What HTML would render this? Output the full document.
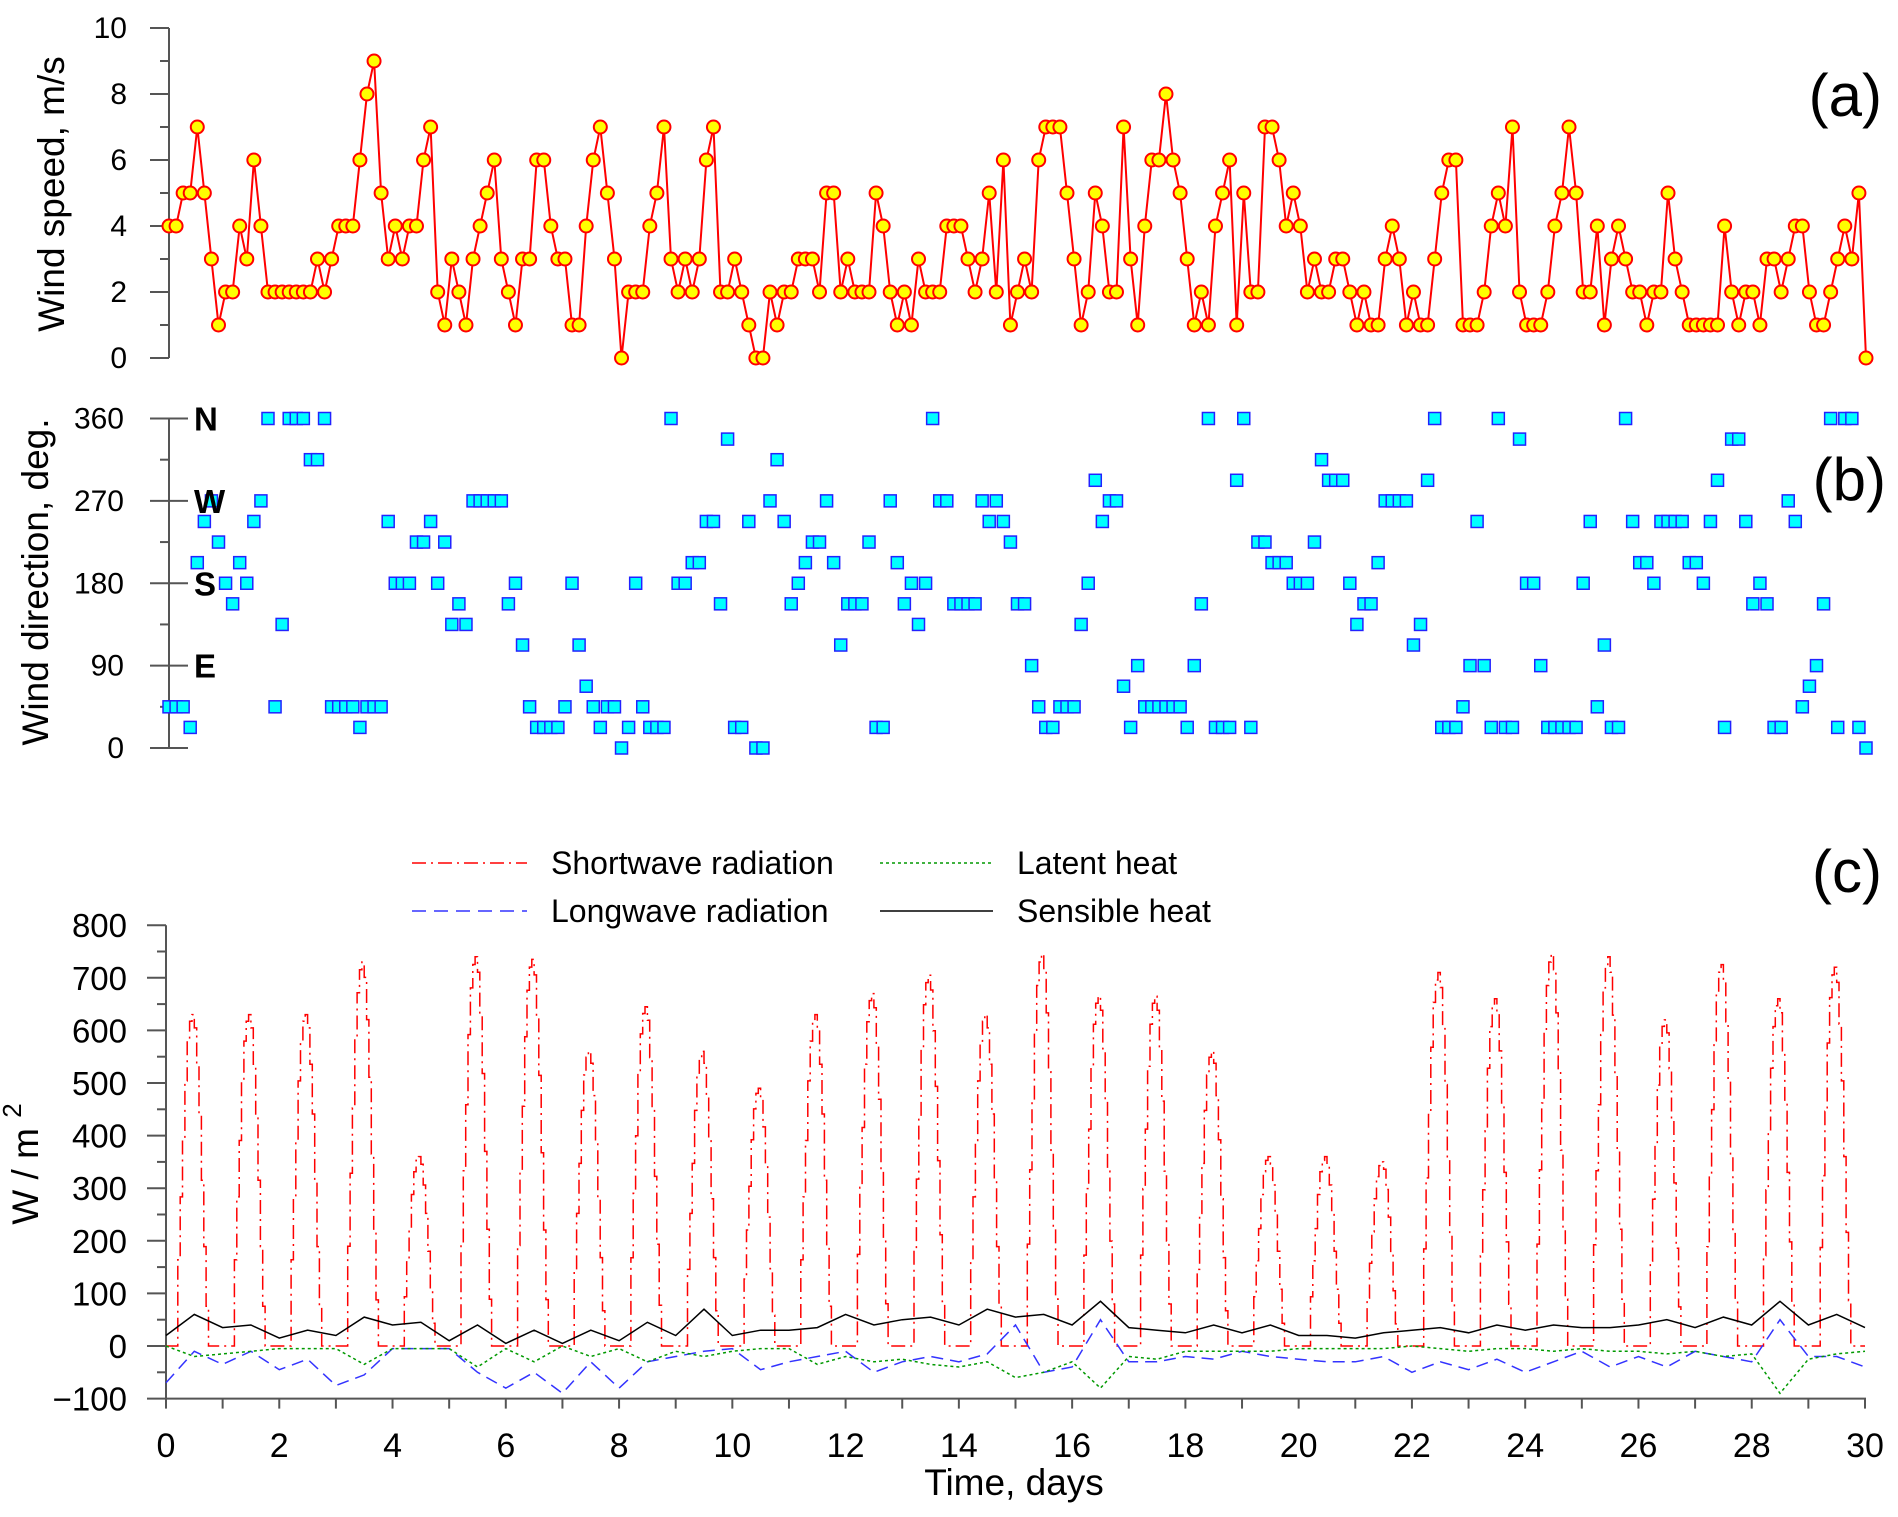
<!DOCTYPE html>
<html><head><meta charset="utf-8">
<style>
html,body{margin:0;padding:0;background:#fff;}
svg{display:block;font-family:"Liberation Sans",Arial,sans-serif;}
</style></head>
<body>
<svg id="fig" width="1898" height="1517" viewBox="0 0 1898 1517" xmlns="http://www.w3.org/2000/svg">
  <rect x="0" y="0" width="1898" height="1517" fill="#fff"/>
  <g id="pa"></g>
  <g id="pb"></g>
  <g id="pc"></g>
  <text x="54" y="194" transform="rotate(-90 54 194)" text-anchor="middle" dominant-baseline="middle" font-size="37">Wind speed, m/s</text>
  <text x="38" y="582" transform="rotate(-90 38 582)" text-anchor="middle" dominant-baseline="middle" font-size="37">Wind direction, deg.</text>
  <text x="28" y="1164" transform="rotate(-90 28 1164)" text-anchor="middle" dominant-baseline="middle" font-size="37">W / m <tspan dy="-14" font-size="26">2</tspan></text>
  <text x="1014" y="1495" text-anchor="middle" font-size="37">Time, days</text>
  <text x="1882" y="116" text-anchor="end" font-size="60">(a)</text>
  <text x="1886" y="500" text-anchor="end" font-size="60">(b)</text>
  <text x="1882" y="892" text-anchor="end" font-size="60">(c)</text>
  <g>
    <g>
      <line x1="412" y1="863" x2="527" y2="863" stroke="#ff0000" stroke-width="1.5" stroke-dasharray="14,5,2,5"/>
      <text x="551" y="874" font-size="32">Shortwave radiation</text>
    </g>
    <g>
      <line x1="412" y1="911" x2="527" y2="911" stroke="#3333ff" stroke-width="1.5" stroke-dasharray="14,8"/>
      <text x="551" y="922" font-size="32">Longwave radiation</text>
    </g>
    <g>
      <line x1="880" y1="863" x2="993" y2="863" stroke="#009900" stroke-width="1.5" stroke-dasharray="3,3"/>
      <text x="1017" y="874" font-size="32">Latent heat</text>
    </g>
    <g>
      <line x1="880" y1="911" x2="993" y2="911" stroke="#000" stroke-width="1.5"/>
      <text x="1017" y="922" font-size="32">Sensible heat</text>
    </g>
  </g>
</svg>
<script>
// ---------- data ----------
var speedValues = [4,4,5,5,7,5,3,1,2,2,4,3,6,4,2,2,2,2,2,2,2,3,2,3,4,4,4,6,8,9,5,3,4,3,4,4,6,7,2,1,3,2,1,3,4,5,6,3,2,1,3,3,6,6,4,3,3,1,1,4,6,7,5,3,0,2,2,2,4,5,7,3,2,3,2,3,6,7,2,2,3,2,
1,0,0,2,1,2,2,3,3,3,2,5,5,2,3,2,2,2,5,4,2,1,2,1,3,2,2,2,4,4,4,3,2,3,5,2,6,1,2,3,2,6,7,7,7,5,3,1,2,5,4,2,2,7,3,1,4,6,6,8,6,5,3,1,2,1,4,5,6,1,5,2,2,7,7,6,4,5,4,2,
3,2,2,3,3,2,1,2,1,1,3,4,3,1,2,1,1,3,5,6,6,1,1,1,2,4,5,4,7,2,1,1,1,2,4,5,7,5,2,2,4,1,3,4,3,2,2,1,2,2,5,3,2,1,1,1,1,1,4,2,1,2,2,1,3,3,2,3,4,4,2,1,1,2,3,4,3,5,0];
var directionValues = [45,45,45,22.5,202.5,247.5,270,225,180,157.5,202.5,180,247.5,270,360,45,135,360,360,360,315,315,360,45,45,45,45,22.5,45,45,45,247.5,180,180,180,225,225,247.5,180,225,135,157.5,135,270,270,270,270,270,157.5,180,112.5,45,22.5,22.5,22.5,22.5,45,180,112.5,67.5,45,22.5,45,45,0,22.5,180,45,22.5,22.5,22.5,360,180,180,202.5,202.5,247.5,247.5,157.5,337.5,22.5,22.5,
247.5,0,0,270,315,247.5,157.5,180,202.5,225,225,270,202.5,112.5,157.5,157.5,157.5,225,22.5,22.5,270,202.5,157.5,180,135,180,360,270,270,157.5,157.5,157.5,157.5,270,247.5,270,247.5,225,157.5,157.5,90,45,22.5,22.5,45,45,45,135,180,292.5,247.5,270,270,67.5,22.5,90,45,45,45,45,45,45,22.5,90,157.5,360,22.5,22.5,22.5,292.5,360,22.5,225,225,202.5,202.5,202.5,180,180,180,
225,315,292.5,292.5,292.5,180,135,157.5,157.5,202.5,270,270,270,270,112.5,135,292.5,360,22.5,22.5,22.5,45,90,247.5,90,22.5,360,22.5,22.5,337.5,180,180,90,22.5,22.5,22.5,22.5,22.5,180,247.5,45,112.5,22.5,22.5,360,247.5,202.5,202.5,180,247.5,247.5,247.5,247.5,202.5,202.5,180,247.5,292.5,22.5,337.5,337.5,247.5,157.5,180,157.5,22.5,22.5,270,247.5,45,67.5,90,157.5,360,22.5,360,360,22.5,0];
var dailyShortwavePeak = [630,630,630,730,360,740,735,560,645,560,490,630,670,705,630,745,665,665,560,360,360,350,710,660,745,740,620,725,660,720];
var hourlyProfile = [0,0,0,0,0,0.26,0.45,0.62,0.8,0.92,0.98,1.0,0.96,0.85,0.7,0.5,0.3,0.12,0,0,0,0,0,0];
var sensibleHeat = [20,60,35,40,15,30,20,55,40,45,10,40,5,30,5,30,10,45,20,70,20,30,30,35,60,40,50,55,40,70,55,60,40,85,35,30,25,40,25,40,20,20,15,25,30,35,25,40,30,40,35,35,40,50,35,55,40,85,40,60,35];
var latentHeat = [0,-20,-15,-10,-5,-5,-5,-35,-5,-5,-5,-40,-5,-30,0,-20,-5,-30,-10,-20,-10,-5,-5,-35,-20,-30,-25,-35,-40,-30,-60,-50,-30,-80,-20,-25,-10,-10,-10,-10,-5,-5,-5,-5,0,-5,-10,-5,-5,-10,-5,-10,-10,-15,-10,-20,-15,-90,-25,-15,-10];
var longwaveRad = [-70,-10,-35,-10,-45,-25,-75,-55,-5,-5,-5,-50,-80,-50,-90,-30,-80,-30,-20,-10,-5,-45,-30,-20,-10,-50,-30,-20,-30,-15,40,-50,-40,50,-30,-30,-20,-25,-10,-20,-25,-30,-30,-20,-50,-30,-45,-25,-50,-30,-10,-40,-20,-40,-10,-20,-30,50,-20,-20,-40];
var speedTicks = [0,2,4,6,8,10];
var dirTicks = [0,90,180,270,360];
var dirLetters = ["E","S","W","N"];
var fluxTicks = [-100,0,100,200,300,400,500,600,700,800];
var dayTicks = [0,2,4,6,8,10,12,14,16,18,20,22,24,26,28,30];

// ---------- helpers ----------
var NS = "http://www.w3.org/2000/svg";
function mk(tag, attrs, parent){ var e=document.createElementNS(NS,tag); for(var k in attrs){e.setAttribute(k,attrs[k]);} parent.appendChild(e); return e; }
var STEP_DAYS = 0.125;
function xab(t){ return 169 + t/30*(1866-169); }
function ya(v){ return 358 - v*33; }
function yb(v){ return 748 - v/360*329.5; }
function xc(t){ return 166 + t/30*(1865-166); }
function yc(v){ return 1346 - v*0.526; }

// ---------- panel a ----------
var pa = document.getElementById('pa');
var ax = mk('line',{x1:169,y1:ya(10),x2:169,y2:ya(0),stroke:'#555','stroke-width':2},pa);


for (var v=0; v<=10; v++){
  var major = v%2===0;
  var tk = mk('line',{x1: major?150:160, y1:ya(v), x2:169, y2:ya(v), stroke:'#555','stroke-width':2},pa);
  
  
}
speedTicks.forEach(function(v){
  var t = mk('text',{x:127,y:ya(v)+10,'text-anchor':'end','font-size':30},pa);
  t.textContent = v;
  
  
});
var pts = speedValues.map(function(v,i){ return xab(i*STEP_DAYS).toFixed(1)+','+ya(v).toFixed(1); }).join(' ');
var sl = mk('polyline',{points:pts,fill:'none',stroke:'#ff0000','stroke-width':2},pa);


speedValues.forEach(function(v,i){
  var c = mk('circle',{cx:xab(i*STEP_DAYS),cy:ya(v),r:6.5,fill:'#ffff00',stroke:'#ff0000','stroke-width':2},pa);
  
  
});

// ---------- panel b ----------
var pb = document.getElementById('pb');
var bx = mk('line',{x1:169,y1:yb(360),x2:169,y2:yb(0),stroke:'#555','stroke-width':2},pb);


for (var d=0; d<=360; d+=45){
  var mj = d%90===0;
  var tb = mk('line',{x1: mj?150:160, y1:yb(d), x2: mj?188:169, y2:yb(d), stroke:'#555','stroke-width':2},pb);
  
  
}
dirTicks.forEach(function(v){
  var t = mk('text',{x:124,y:yb(v)+10,'text-anchor':'end','font-size':30},pb);
  t.textContent = v;
  
  
});
directionValues.forEach(function(v,i){
  var r = mk('rect',{x:xab(i*STEP_DAYS)-6,y:yb(v)-6,width:12,height:12,fill:'#00ffff',stroke:'#2222ff','stroke-width':1.5},pb);
  
  
});
dirLetters.forEach(function(L,k){
  var t = mk('text',{x:194,y:yb((k+1)*90)+12,'font-size':33,'font-weight':'bold'},pb);
  t.textContent = L;
  
  
});

// ---------- panel c ----------
var pc = document.getElementById('pc');
var cy = mk('line',{x1:166,y1:yc(800),x2:166,y2:yc(-100),stroke:'#555','stroke-width':2},pc);


var cx = mk('line',{x1:166,y1:yc(-100),x2:1866,y2:yc(-100),stroke:'#555','stroke-width':2},pc);


for (var f=-100; f<=800; f+=50){
  var fm = f%100===0;
  var tc = mk('line',{x1: fm?147:157, y1:yc(f), x2:166, y2:yc(f), stroke:'#555','stroke-width':2},pc);
  
  
}
fluxTicks.forEach(function(v){
  var t = mk('text',{x:127,y:yc(v)+12,'text-anchor':'end','font-size':33},pc);
  t.textContent = (v<0?'\u2212'+Math.abs(v):v);
  
  
});
for (var dd=0; dd<=30; dd++){
  var tx = mk('line',{x1:xc(dd),y1:yc(-100),x2:xc(dd),y2:yc(-100)+10,stroke:'#555','stroke-width':2},pc);
  
  
}
dayTicks.forEach(function(v){
  var t = mk('text',{x:xc(v),y:1457,'text-anchor':'middle','font-size':34},pc);
  t.textContent = v;
  
  
});
// shortwave (hourly steps)
var sw = 'M'+xc(0)+','+yc(0);
dailyShortwavePeak.forEach(function(p,day){
  hourlyProfile.forEach(function(fr,h){
    var t0 = day + h/24, t1 = day + (h+1)/24;
    var yy = yc(p*fr);
    sw += ' L'+xc(t0).toFixed(1)+','+yy.toFixed(1)+' L'+xc(t1).toFixed(1)+','+yy.toFixed(1);
  });
});
var swp = mk('path',{d:sw,fill:'none',stroke:'#ff0000','stroke-width':1.5,'stroke-dasharray':'14,5,2,5'},pc);


function series(arr, color, dash){
  var p = arr.map(function(v,i){ return xc(i*0.5).toFixed(1)+','+yc(v).toFixed(1); }).join(' ');
  var a = {points:p,fill:'none',stroke:color,'stroke-width':1.5};
  if (dash) a['stroke-dasharray']=dash;
  return mk('polyline',a,pc);
}
var lw = series(longwaveRad,'#3333ff','12,7');


var lt = series(latentHeat,'#009900','3,3');


var sh = series(sensibleHeat,'#000000',null);


</script>
</body></html>
